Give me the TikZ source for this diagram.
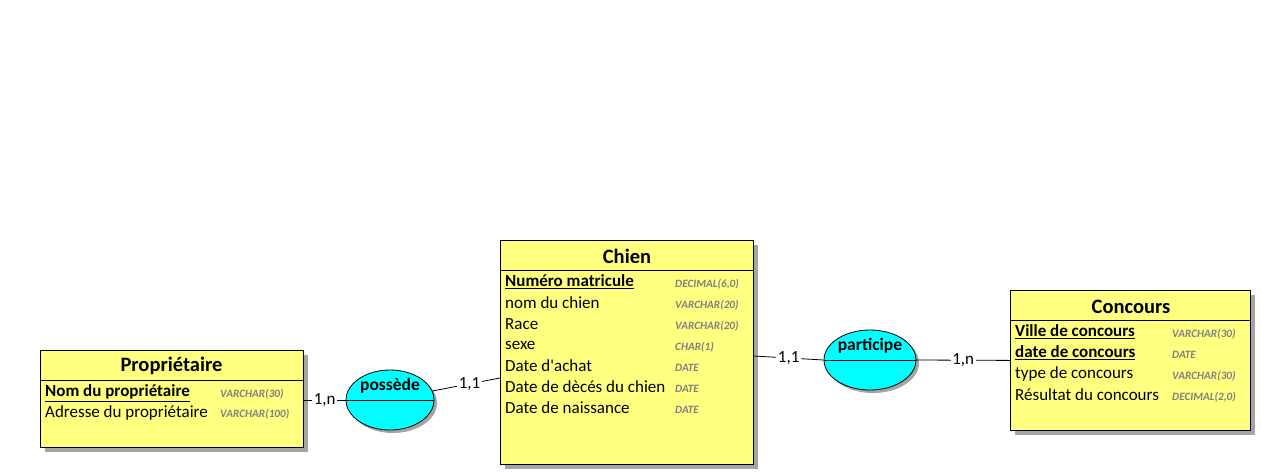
\documentclass[tikz,border=0pt]{standalone}
\usepackage{fontspec}
\setmainfont{Carlito}
\usetikzlibrary{shapes.geometric,calc}
\definecolor{entfill}{RGB}{255,255,128}
\definecolor{relfill}{RGB}{0,255,255}
\definecolor{shadowgray}{RGB}{165,165,165}
\definecolor{typegray}{RGB}{128,128,128}
\begin{document}
\begin{tikzpicture}[x=1pt,y=-1pt,
  entity/.style={draw=black, fill=entfill, rectangle, inner sep=0pt, anchor=north west, line width=0.8pt},
  relation/.style={draw=black, fill=relfill, ellipse, inner sep=0pt, line width=0.8pt},
  etitle/.style={inner sep=0pt, font=\bfseries\fontsize{20.5}{24}\selectfont},
  rtitle/.style={inner sep=0pt, font=\bfseries\fontsize{17.5}{20}\selectfont},
  attr/.style={inner sep=0pt, anchor=west, font=\fontsize{17}{20}\selectfont},
  keyattr/.style={attr, font=\bfseries\fontsize{17}{20}\selectfont},
  typ/.style={inner sep=0pt, anchor=west, text=typegray, font=\bfseries\itshape\fontsize{11.2}{13}\selectfont},
  card/.style={fill=white, inner sep=1.5pt, font=\fontsize{17}{20}\selectfont},
  link/.style={draw=black, line width=0.8pt}
]
\useasboundingbox (0,0) rectangle (1261,475);

% ---------- shadows ----------
\fill[shadowgray] (45,355) rectangle (308,452);
\fill[shadowgray] (505,245) rectangle (758,469);
\fill[shadowgray] (1015,295) rectangle (1255,435);
\fill[shadowgray] (393,403) ellipse [x radius=44pt, y radius=30pt];
\fill[shadowgray] (873,363) ellipse [x radius=46pt, y radius=30pt];

% ---------- Propriétaire ----------
\node[entity, minimum width=263pt, minimum height=97pt] (prop) at (40,350) {};
\draw[line width=0.8pt] ($(prop.north west)+(0,30)$) -- ($(prop.north east)+(0,30)$);
\node[etitle] (propT) at (171.5,366) {Propriétaire};
\node[keyattr] (p1) at (45,393) {\underline{Nom du propriétaire}};
\node[typ] (p1t) at (220,394) {VARCHAR(30)};
\node[attr] (p2) at (45,413) {Adresse du propriétaire};
\node[typ] (p2t) at (220,414) {VARCHAR(100)};

% ---------- Chien ----------
\node[entity, minimum width=253pt, minimum height=224pt] (chien) at (500,240) {};
\draw[line width=0.8pt] ($(chien.north west)+(0,30)$) -- ($(chien.north east)+(0,30)$);
\node[etitle] (chienT) at (627,256) {Chien};
\node[keyattr] (c1) at (505,282) {\underline{Numéro matricule}};
\node[typ] (c1t) at (675,284) {DECIMAL(6,0)};
\node[attr] (c2) at (505,303) {nom du chien};
\node[typ] (c2t) at (675,305) {VARCHAR(20)};
\node[attr] (c3) at (505,324) {Race};
\node[typ] (c3t) at (675,326) {VARCHAR(20)};
\node[attr] (c4) at (505,345) {sexe};
\node[typ] (c4t) at (675,347) {CHAR(1)};
\node[attr] (c5) at (505,366) {Date d\textquotesingle achat};
\node[typ] (c5t) at (675,368) {DATE};
\node[attr] (c6) at (505,387) {Date de dècés du chien};
\node[typ] (c6t) at (675,389) {DATE};
\node[attr] (c7) at (505,408) {Date de naissance};
\node[typ] (c7t) at (675,410) {DATE};

% ---------- Concours ----------
\node[entity, minimum width=240pt, minimum height=140pt] (conc) at (1010,290) {};
\draw[line width=0.8pt] ($(conc.north west)+(0,30)$) -- ($(conc.north east)+(0,30)$);
\node[etitle] (concT) at (1131,307) {Concours};
\node[keyattr] (k1) at (1015,332) {\underline{Ville de concours}};
\node[typ] (k1t) at (1172,334) {VARCHAR(30)};
\node[keyattr] (k2) at (1015,353) {\underline{date de concours}};
\node[typ] (k2t) at (1172,355) {DATE};
\node[attr] (k3) at (1015,374) {type de concours};
\node[typ] (k3t) at (1172,376) {VARCHAR(30)};
\node[attr] (k4) at (1015,395) {Résultat du concours};
\node[typ] (k4t) at (1172,397) {DECIMAL(2,0)};

% ---------- relations ----------
\node[relation, minimum width=88pt, minimum height=60pt] (poss) at (390,400) {};
\draw[line width=0.8pt] (poss.west) -- (poss.east);
\node[rtitle] (possT) at (390,386) {possède};

\node[relation, minimum width=92pt, minimum height=60pt] (part) at (870,360) {};
\draw[line width=0.8pt] (part.west) -- (part.east);
\node[rtitle] (partT) at (870,346) {participe};

% ---------- links ----------
\draw[link] (prop.east |- poss.west) -- node[card] {1,n} (poss.west);
\draw[link] (poss.12) -- node[card, pos=0.55] {1,1} ($(chien.north west)+(0,138)$);
\draw[link] ($(chien.north east)+(0,116)$) -- node[card, pos=0.5] {1,1} (part.west);
\draw[link] (part.east) -- node[card] {1,n} (conc.west);
\end{tikzpicture}
\end{document}
